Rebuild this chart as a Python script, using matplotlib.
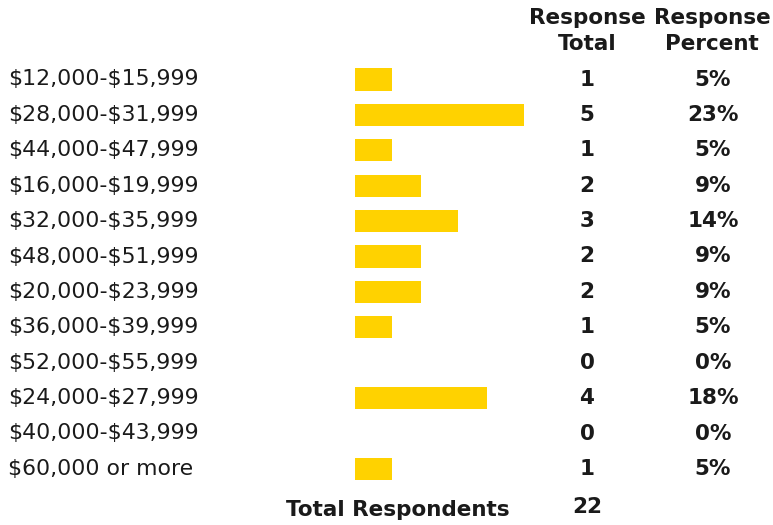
import matplotlib
matplotlib.use("Agg")
import matplotlib.pyplot as plt
import matplotlib.transforms as mtransforms

categories = ["$12,000-$15,999", "$28,000-$31,999", "$44,000-$47,999", "$16,000-$19,999",
              "$32,000-$35,999", "$48,000-$51,999", "$20,000-$23,999", "$36,000-$39,999",
              "$52,000-$55,999", "$24,000-$27,999", "$40,000-$43,999", "$60,000 or more"]
totals = [1, 5, 1, 2, 3, 2, 2, 1, 0, 4, 0, 1]
percents = [5, 23, 5, 9, 14, 9, 9, 5, 0, 18, 0, 5]
total_respondents = 22
header_total = "Response\nTotal"
header_percent = "Response\nPercent"
footer_label = "Total Respondents"

W, H = 773, 525
fig = plt.figure(figsize=(W / 100, H / 100), dpi=100)
ax = fig.add_axes([0, 0, 1, 1])
ax.set_axis_off()

px_per_unit = 7.33
bar_left_px = 355
row0_px = 79.5
row_step = 35.4
ax.set_xlim(-bar_left_px / px_per_unit, (W - bar_left_px) / px_per_unit)
ax.set_ylim((H - row0_px) / row_step, -row0_px / row_step)

rows = list(range(len(categories)))
ax.barh(rows, percents, height=0.63, color="#FFD200", left=0)

trans = mtransforms.blended_transform_factory(fig.transFigure, ax.transData)
fs = 15.8
fsb = 15.5
col = "#1a1a1a"
for i, (c, t, p) in enumerate(zip(categories, totals, percents)):
    ax.text(8 / W, i, c, transform=trans, ha="left", va="center", fontsize=fs, color=col,
            parse_math=False)
    ax.text(587 / W, i, str(t), transform=trans, ha="center", va="center", fontsize=fsb,
            fontweight="bold", color=col)
    ax.text(713 / W, i, f"{p}%", transform=trans, ha="center", va="center", fontsize=fsb,
            fontweight="bold", color=col)

hdr_y = (31 - row0_px) / row_step
ax.text(587 / W, hdr_y, header_total, transform=trans, ha="center", va="center", fontsize=fsb,
        fontweight="bold", color=col, linespacing=1.4)
ax.text(712 / W, hdr_y, header_percent, transform=trans, ha="center", va="center", fontsize=fsb,
        fontweight="bold", color=col, linespacing=1.4)

foot_y = (510 - row0_px) / row_step
ax.text(510 / W, foot_y, footer_label, transform=trans, ha="right", va="center", fontsize=fsb,
        fontweight="bold", color=col)
ax.text(587 / W, (507 - row0_px) / row_step, str(total_respondents), transform=trans, ha="center",
        va="center", fontsize=fsb, fontweight="bold", color=col)

fig.savefig("out.png", dpi=100)
